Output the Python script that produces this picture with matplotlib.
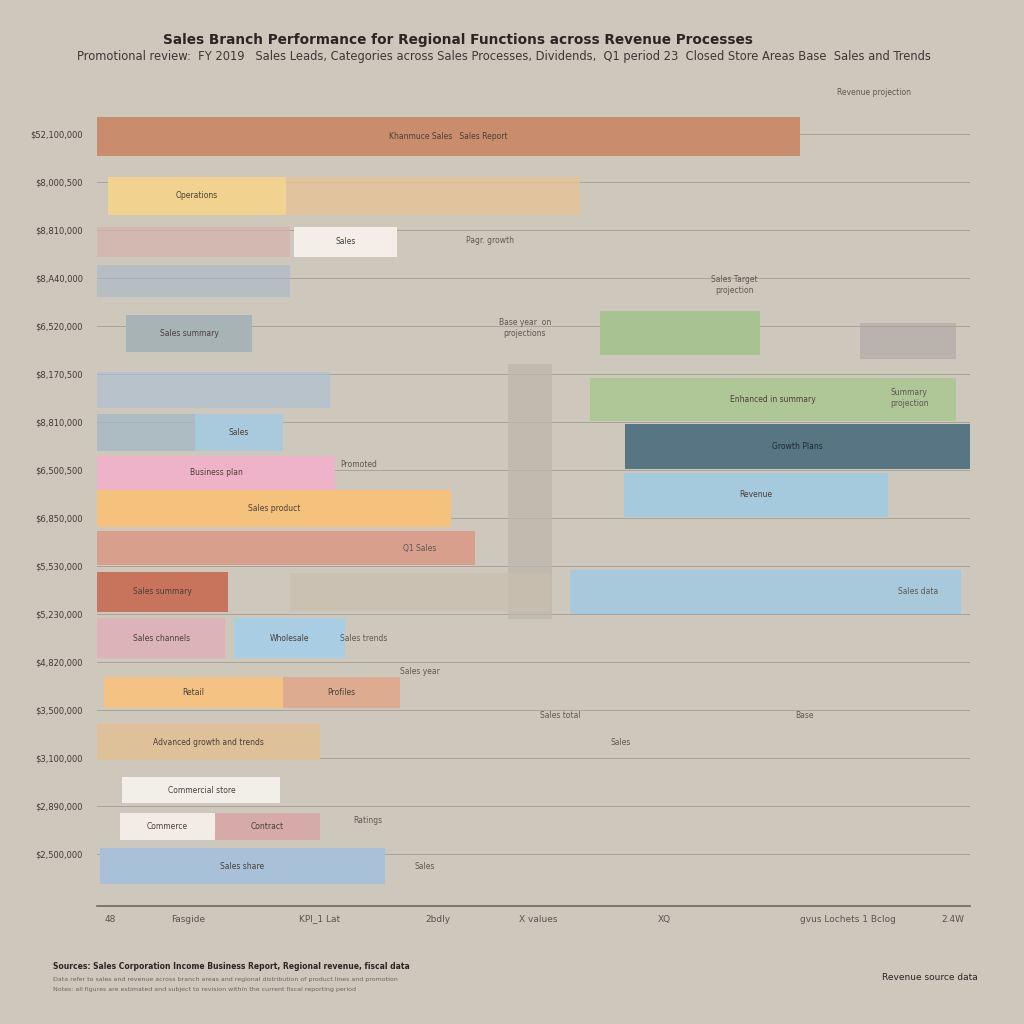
import matplotlib
matplotlib.use("Agg")
import matplotlib.pyplot as plt

# ---------------- data ----------------
row_labels = ["$52,100,000", "$8,000,500", "$8,810,000", "$8,A40,000", "$6,520,000",
              "$8,170,500", "$8,810,000", "$6,500,500", "$6,850,000", "$5,530,000",
              "$5,230,000", "$4,820,000", "$3,500,000", "$3,100,000", "$2,890,000", "$2,500,000"]
row_ticks = [0.5, 1.5, 2.5, 3.5, 4.5, 5.5, 6.5, 7.5, 8.5, 9.5, 10.5, 11.5, 12.5, 13.5, 14.5, 15.5]

lane = [0.56, 1.79, 1.79, 2.75, 2.75, 3.56, 4.65, 4.65, 4.81, 5.83, 6.04, 6.73, 6.73, 7.02, 7.56,
        8.02, 8.31, 9.13, 10.04, 10.04, 10.04, 11.0, 11.0, 12.13, 12.13, 13.17, 14.17, 14.92, 14.92, 15.75]
start = [0.0, 1.3, 21.6, 0.0, 22.6, 0.0, 3.3, 57.6, 87.4, 0.0, 56.5, 0.0, 11.2, 60.4, 0.0,
         60.3, 0.0, 0.0, 0.0, 22.1, 54.2, 0.0, 15.7, 0.8, 21.3, 0.0, 2.9, 2.6, 13.5, 0.3]
finish = [80.5, 21.6, 55.3, 22.1, 34.4, 22.1, 17.8, 75.9, 98.3, 26.7, 98.3, 11.2, 21.3, 100.0, 27.3,
          90.6, 40.5, 43.3, 15.0, 51.9, 98.9, 14.7, 28.4, 21.3, 34.7, 25.5, 21.0, 13.5, 25.5, 33.0]
thick = [0.83, 0.79, 0.79, 0.63, 0.63, 0.67, 0.77, 0.92, 0.75, 0.75, 0.9, 0.77, 0.77, 0.94, 0.71,
         0.9, 0.77, 0.71, 0.83, 0.79, 0.9, 0.83, 0.83, 0.63, 0.63, 0.75, 0.54, 0.58, 0.58, 0.75]
colors = ["#c98c6c", "#f1d28f", "#e7c497", "#d6b3ad", "#f3efe8", "#a9b9c9", "#a8b3b6", "#a9c291",
          "#aaa8a4", "#a9c0d4", "#afc697", "#a5b8c6", "#a9c9dd", "#587583", "#efb3c9", "#a5c9dd",
          "#f4c27d", "#db9580", "#c8735b", "#c9bfae", "#a8c9dc", "#dbb3b9", "#a9cde2", "#f4c282",
          "#e0a486", "#dfc199", "#f2efe9", "#f1ede6", "#d5aaa8", "#a8c1d8"]
alphas = [1, 1, 0.8, 0.7, 1, 0.6, 1, 1, 0.6, 0.6, 1, 0.8, 1, 1, 1,
          1, 1, 0.8, 1, 0.7, 1, 1, 1, 1, 0.8, 1, 1, 1, 1, 1]
bar_text = ["Khanmuce Sales   Sales Report", "Operations", "", "", "Sales", "", "Sales summary", "",
            "", "", "Enhanced in summary", "", "Sales", "Growth Plans", "Business plan", "Revenue",
            "Sales product", "", "Sales summary", "", "", "Sales channels", "Wholesale", "Retail",
            "Profiles", "Advanced growth and trends", "Commercial store", "Commerce", "Contract", "Sales share"]

highlight = (47.1, 52.1)
x_ticks = [1.5, 10.5, 25.5, 39.0, 50.5, 65.0, 86.0, 98.0]
x_labels = ["48", "Fasgide", "KPI_1 Lat", "2bdly", "X values", "XQ", "gvus Lochets 1 Bclog", "2.4W"]

bg = "#cdc7bc"
# ---------------- figure ----------------
fig = plt.figure(figsize=(10.24, 10.24), dpi=100, facecolor=bg)
ax = fig.add_axes([0.0947, 0.115, 0.853, 0.778], facecolor=bg)

ax.axvspan(highlight[0], highlight[1], ymin=1 - 10.6 / 16.58, ymax=1 - 5.3 / 16.58,
           color="#bdb7ac", alpha=0.8, lw=0, zorder=1)

for i in range(len(lane)):
    ax.barh(lane[i], finish[i] - start[i], left=start[i], height=thick[i],
            color=colors[i], alpha=alphas[i], lw=0, zorder=3)
    if bar_text[i]:
        tc = "#1e2a30" if colors[i] == "#587583" else "#4a4038"
        ax.text((start[i] + finish[i]) / 2, lane[i], bar_text[i], ha="center", va="center",
                fontsize=5.5, color=tc, zorder=4)

ax.set_xlim(0, 100)
ax.set_ylim(16.58, 0)
ax.set_yticks(row_ticks)
ax.set_yticklabels(row_labels, fontsize=6, color="#3d3a36")
ax.set_xticks(x_ticks)
ax.set_xticklabels(x_labels, fontsize=6.5, color="#5a5550")
ax.tick_params(axis="y", length=0, pad=10)
ax.tick_params(axis="x", length=0, pad=6)
ax.grid(axis="y", color="#a8a298", lw=0.7, zorder=0)
ax.set_axisbelow(True)
for s in ["top", "right", "left"]:
    ax.spines[s].set_visible(False)
ax.spines["bottom"].set_color("#6b6660")
ax.spines["bottom"].set_linewidth(1.2)

# side notes
notes = [(45.0, 2.73, "Pagr. growth"), (73.0, 3.65, "Sales Target\nprojection"),
         (49.0, 4.55, "Base year  on\nprojections"), (93.0, 6.0, "Summary\nprojection"),
         (30.0, 7.38, "Promoted"), (37.0, 9.13, "Q1 Sales"), (94.0, 10.04, "Sales data"),
         (30.5, 11.0, "Sales trends"), (37.0, 11.7, "Sales year"), (60.0, 13.17, "Sales"),
         (81.0, 12.6, "Base"), (53.0, 12.6, "Sales total"), (31.0, 14.8, "Ratings"),
         (37.5, 15.75, "Sales"), (89.0, -0.35, "Revenue projection")]
for x, y, t in notes:
    ax.text(x, y, t, fontsize=5.5, color="#5e5852", ha="center", va="center", zorder=5)

fig.text(0.447, 0.961, "Sales Branch Performance for Regional Functions across Revenue Processes",
         ha="center", va="center", fontsize=9.8, fontweight="bold", color="#2a2622")
fig.text(0.492, 0.945, "Promotional review:  FY 2019   Sales Leads, Categories across Sales Processes, "
         "Dividends,  Q1 period 23  Closed Store Areas Base  Sales and Trends",
         ha="center", va="center", fontsize=8.3, color="#3d3833")
fig.text(0.052, 0.054, "Sources: Sales Corporation Income Business Report, Regional revenue, fiscal data",
         fontsize=5.5, fontweight="bold", color="#2a2622")
fig.text(0.052, 0.042, "Data refer to sales and revenue across branch areas and regional distribution of product lines and promotion",
         fontsize=4.5, color="#6a645e")
fig.text(0.052, 0.032, "Notes: all figures are estimated and subject to revision within the current fiscal reporting period",
         fontsize=4.5, color="#6a645e")
fig.text(0.955, 0.043, "Revenue source data", ha="right", fontsize=6.5, color="#2a2622")

fig.savefig("out.png", dpi=100, facecolor=bg)
